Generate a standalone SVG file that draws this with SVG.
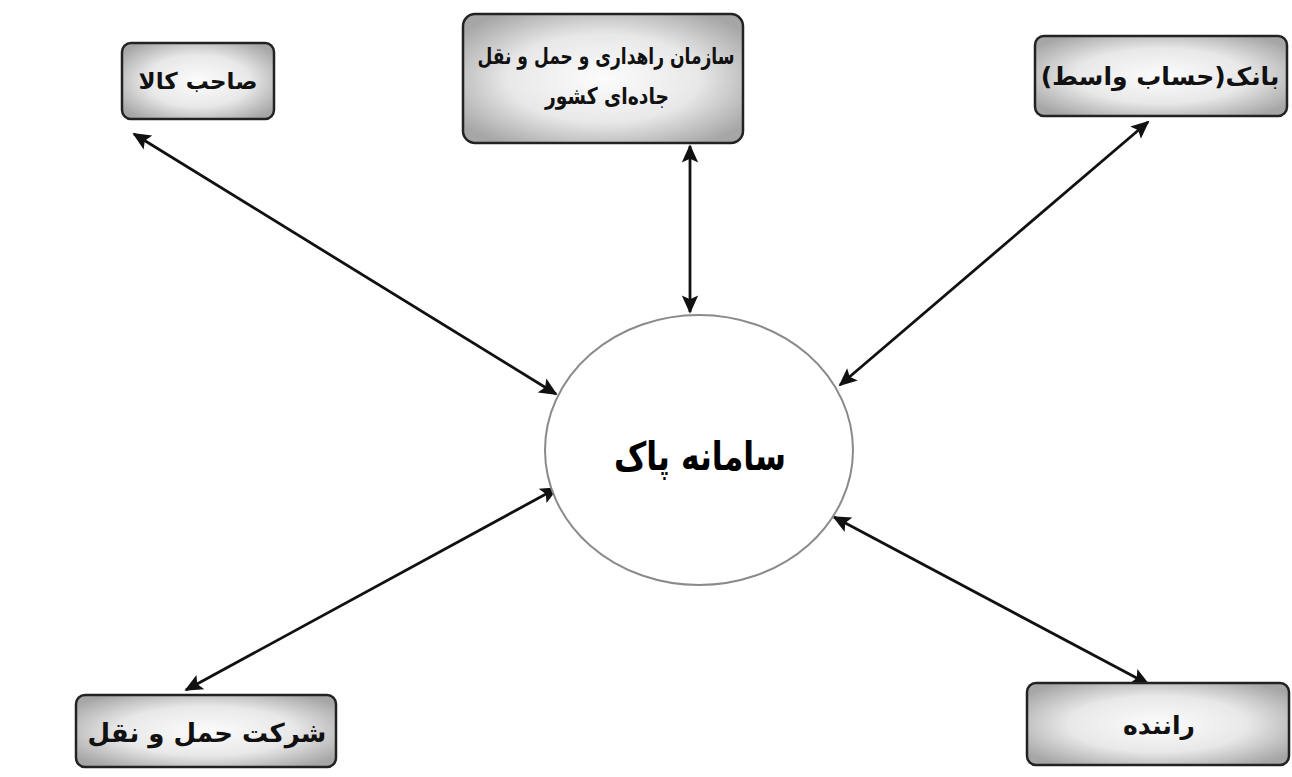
<svg xmlns="http://www.w3.org/2000/svg" width="1292" height="777" viewBox="0 0 1292 777">
<defs>
<radialGradient id="boxg" cx="50%" cy="50%" r="62%">
<stop offset="0" stop-color="#fcfcfc"/>
<stop offset="0.55" stop-color="#e8e8e8"/>
<stop offset="1" stop-color="#a6a6a6"/>
</radialGradient>
<marker id="ah" viewBox="0 0 10 10" refX="9" refY="5" markerWidth="7" markerHeight="6.5" markerUnits="strokeWidth" orient="auto-start-reverse">
<path d="M0,0.5 L10,5 L0,9.5 L2,5 Z" fill="#111"/>
</marker>
<style>
.box{fill:url(#boxg);stroke:#222;stroke-width:2.5}
.lbl{font-family:"DejaVu Sans",sans-serif;font-size:23px;font-weight:bold;fill:#111;text-anchor:middle}
.conn line{stroke:#111;stroke-width:2.8;marker-start:url(#ah);marker-end:url(#ah)}
</style>
</defs>
<rect width="1292" height="777" fill="#ffffff"/>
<g class="conn">
<line x1="134" y1="134" x2="556" y2="394"/>
<line x1="690" y1="146" x2="690" y2="312"/>
<line x1="1148" y1="122" x2="840" y2="385"/>
<line x1="557" y1="488" x2="186" y2="690"/>
<line x1="834" y1="517" x2="1148" y2="684"/>
</g>
<g id="n-center">
<ellipse cx="699" cy="450" rx="154" ry="135" fill="#ffffff" stroke="#8a8a8a" stroke-width="2"/>
<text x="700" y="470" textLength="172" lengthAdjust="spacingAndGlyphs" style="font-family:'DejaVu Sans',sans-serif;font-size:40px;font-weight:bold;text-anchor:middle;fill:#000">سامانه پاک</text>
</g>
<g id="n-owner">
<rect class="box" x="122" y="43" width="152" height="76" rx="9"/>
<text class="lbl" x="198" y="89">صاحب کالا</text>
</g>
<g id="n-org">
<rect class="box" x="463" y="14" width="280" height="129" rx="12"/>
<text class="lbl" x="606" y="64" textLength="257" lengthAdjust="spacingAndGlyphs">سازمان راهداری و حمل و نقل</text>
<text class="lbl" x="607" y="104" textLength="124" lengthAdjust="spacingAndGlyphs">جاده‌ای کشور</text>
</g>
<g id="n-bank">
<rect class="box" x="1035" y="36" width="252" height="80" rx="9"/>
<text class="lbl" x="1160" y="85" style="font-size:25px">بانک(حساب واسط)</text>
</g>
<g id="n-company">
<rect class="box" x="76" y="695" width="260" height="72" rx="9"/>
<text class="lbl" x="207" y="742" style="font-size:26px">شرکت حمل و نقل</text>
</g>
<g id="n-driver">
<rect class="box" x="1027" y="683" width="262" height="82" rx="9"/>
<text class="lbl" x="1159" y="734" style="font-size:25px">راننده</text>
</g>
</svg>
